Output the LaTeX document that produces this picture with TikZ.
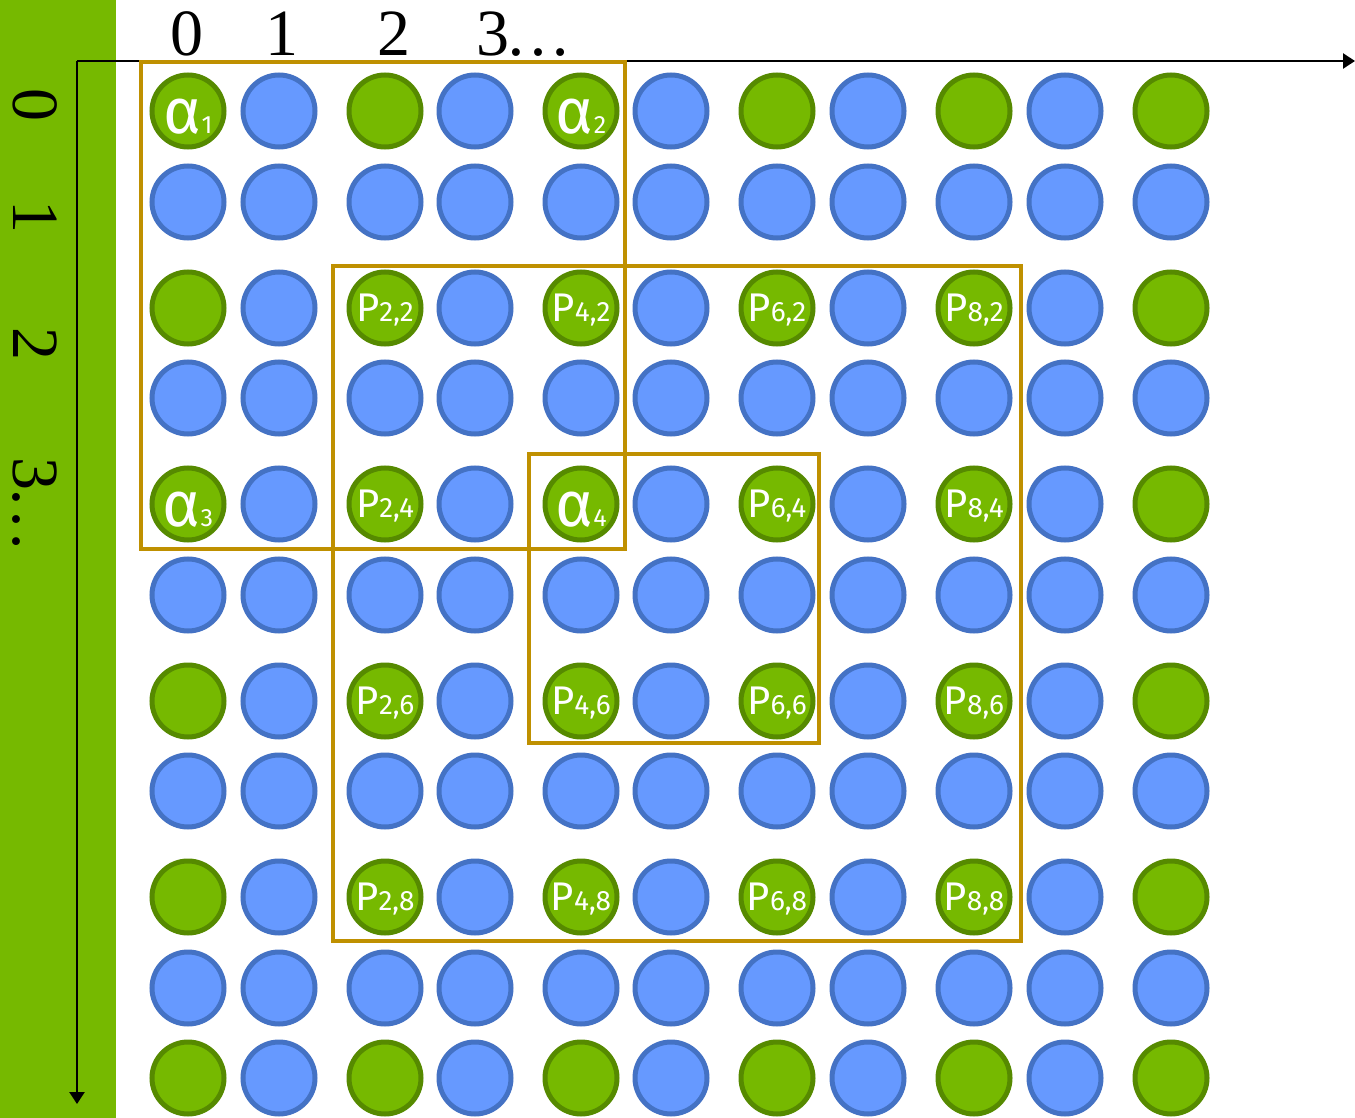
\documentclass[tikz,border=0pt]{standalone}
\usepackage{fontspec}
\setmainfont{Liberation Serif}
\newfontfamily\lblfont{Fira Sans}
\usetikzlibrary{arrows.meta}
\definecolor{nvgreen}{RGB}{118,185,0}
\definecolor{nvgreendark}{RGB}{86,138,0}
\definecolor{dotblue}{RGB}{102,153,255}
\definecolor{dotbluedark}{RGB}{68,114,196}
\definecolor{gold}{RGB}{191,144,0}
\newcommand{\plab}[2]{{\fontsize{20}{20}\selectfont P}{\fontsize{14}{14}\selectfont #1,#2}}
\newcommand{\alab}[1]{{\fontsize{32}{32}\selectfont α}{\fontsize{12.5}{12.5}\selectfont #1}}

\begin{document}
\begin{tikzpicture}[x=0.5pt,y=-0.5pt,
  dot/.style={circle,minimum size=36pt,inner sep=0pt,line width=2.5pt},
  gdot/.style={dot,fill=nvgreen,draw=nvgreendark},
  bdot/.style={dot,fill=dotblue,draw=dotbluedark},
  lab/.style={text=white,font=\lblfont,inner sep=0pt,text depth=0pt},
  win/.style={draw=gold,line width=2.2pt},
  axis/.style={-{Triangle[length=6pt,width=7.5pt]},line width=1.3pt},
  idx/.style={font=\fontsize{33}{33}\selectfont,inner sep=0pt}]
  \useasboundingbox (0,0) rectangle (1355,1118);
  \fill[nvgreen] (0,0) rectangle (116,1118);
  % axes
  \coordinate (origin) at (77,61);
  \coordinate (xend) at (1355,61);
  \coordinate (yend) at (77,1104);
  \draw[axis] (origin) -- (xend);
  \draw[axis] (origin) -- (yend);
  % indices
  \node[idx,anchor=base] (tx0) at (187,56) {0};
  \node[idx,anchor=base] (tx1) at (282,56) {1};
  \node[idx,anchor=base] (tx2) at (394,56) {2};
  \node[idx,anchor=base west] (tx3) at (476,56) {3\kern-2pt…};
  \node[idx,anchor=base,rotate=-90] (ty0) at (13,105) {0};
  \node[idx,anchor=base,rotate=-90] (ty1) at (13,217) {1};
  \node[idx,anchor=base,rotate=-90] (ty2) at (13,344) {2};
  \node[idx,anchor=base west,rotate=-90] (ty3) at (13,457) {3\kern-2pt…};
  % dot grid
  \foreach \r/\yy in {0/111,1/202,2/308,3/398,4/504,5/595,6/701,7/791,8/897,9/988,10/1078} {
    \foreach \c/\xx in {0/188,1/279,2/385,3/475,4/581,5/671,6/777,7/868,8/974,9/1065,10/1171} {
      \pgfmathtruncatemacro{\odd}{mod(\r,2)+mod(\c,2)}
      \ifnum\odd=0
        \node[gdot] (d-\r-\c) at (\xx,\yy) {};
      \else
        \node[bdot] (d-\r-\c) at (\xx,\yy) {};
      \fi
    }
  }
  % windows
  \draw[win] (141,62) rectangle (625,549);
  \draw[win] (333,266) rectangle (1021,941);
  \draw[win] (529,454) rectangle (819,743);
  % labels
  \node[lab,yshift=-2.7pt] at (d-0-0) {\alab{1}};
  \node[lab,yshift=-2.7pt] at (d-0-4) {\alab{2}};
  \node[lab,yshift=-2.7pt] at (d-4-0) {\alab{3}};
  \node[lab,yshift=-2.7pt] at (d-4-4) {\alab{4}};
  \foreach \py in {2,4,6,8} {
    \foreach \px in {2,4,6,8} {
      \ifnum\px\py=44 \else
        \node[lab] at (d-\py-\px) {\plab{\px}{\py}};
      \fi
    }
  }
\end{tikzpicture}
\end{document}
